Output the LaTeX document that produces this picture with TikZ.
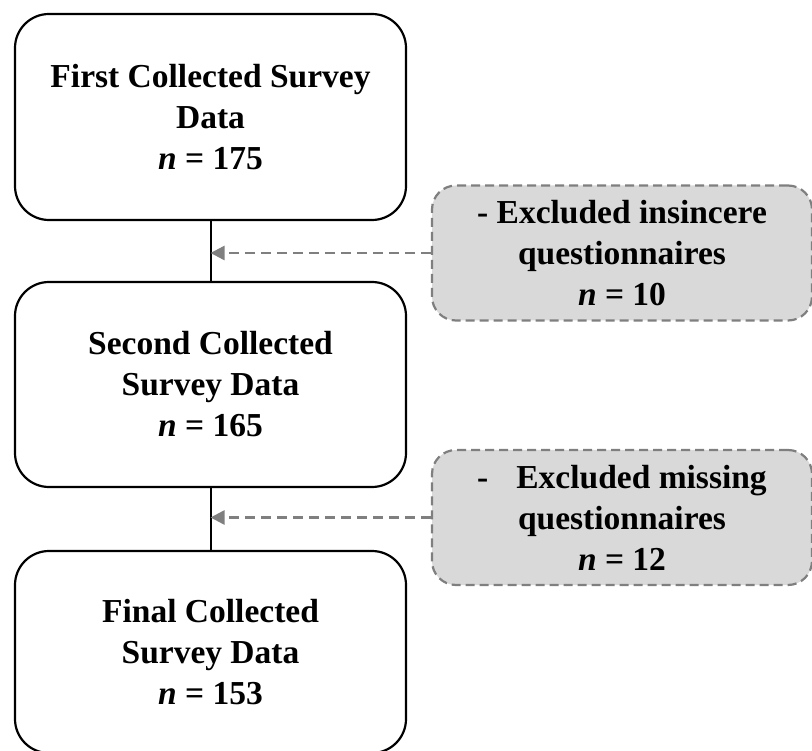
\documentclass[tikz,border=0pt]{standalone}
\usepackage{fontspec}
\setmainfont{Liberation Serif}
\usetikzlibrary{arrows.meta}
\definecolor{boxgray}{HTML}{D9D9D9}
\definecolor{dashgray}{HTML}{7F7F7F}
\begin{document}
\begin{tikzpicture}[x=1pt,y=-1pt,
  mainbox/.style={draw=black, line width=2.2pt, rounded corners=34pt,
    minimum width=391pt, align=center, inner sep=0pt,
    font=\fontsize{33.5}{41}\selectfont\bfseries},
  notebox/.style={draw=dashgray, fill=boxgray, dash pattern=on 9pt off 5pt,
    line width=2.2pt, rounded corners=24pt, minimum width=380pt,
    minimum height=135pt, align=center, inner sep=0pt,
    font=\fontsize{33.5}{41}\selectfont\bfseries},
  link/.style={draw=black, line width=2pt},
  notearrow/.style={draw=dashgray, line width=2.4pt, dash pattern=on 10pt off 6pt,
    -{Triangle[length=14pt,width=14pt]}}
]
\useasboundingbox (0,0) rectangle (812,751);
\node[mainbox, minimum height=206pt] (b1) at (210.5,117) {First Collected Survey\\Data\\\textit{n} = 175};
\node[mainbox, minimum height=205pt] (b2) at (210.5,384.5) {Second Collected\\Survey Data\\\textit{n} = 165};
\node[mainbox, minimum height=202pt] (b3) at (210.5,652) {Final Collected\\Survey Data\\\textit{n} = 153};
\node[notebox] (g1) at (622,253) {- Excluded insincere\\questionnaires\\\textit{n} = 10};
\node[notebox] (g2) at (622,517.5) {-\hspace{28pt}Excluded missing\\questionnaires\\\textit{n} = 12};
\draw[link] (b1.south) -- (b2.north);
\draw[link] (b2.south) -- (b3.north);
\draw[notearrow] (g1.west) -- (g1.west -| b1.south);
\draw[notearrow] (g2.west) -- (g2.west -| b2.south);
\end{tikzpicture}
\end{document}
